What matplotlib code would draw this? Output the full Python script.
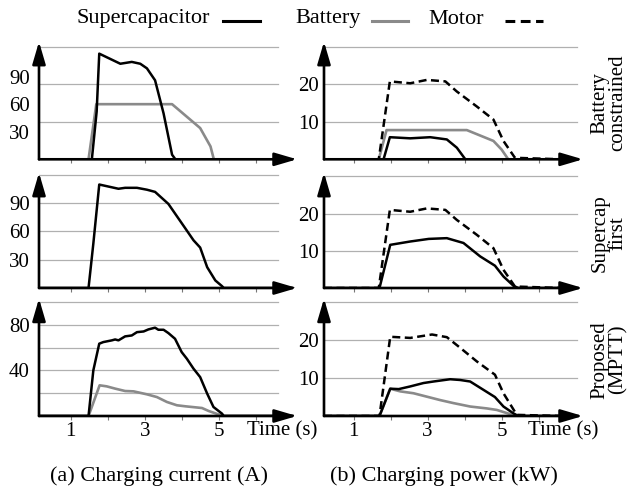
import matplotlib
matplotlib.use('Agg')
import matplotlib.pyplot as plt
from matplotlib.lines import Line2D

plt.rcParams['font.family'] = 'serif'
plt.rcParams['font.serif'] = ['Liberation Serif', 'DejaVu Serif']

# ---- data ----
# (a) charging current (A), battery constrained
t_bc_sc_i = [0.2, 1.57, 1.70, 1.77, 2.34, 2.65, 2.88, 3.06, 3.28, 3.51, 3.74, 3.83, 7.0]
bc_sc_i = [0, 0, 52, 115, 104, 106, 104, 99, 86, 50, 5, 0, 0]
t_bc_bat_i = [0.2, 1.48, 1.69, 3.74, 4.50, 4.78, 4.87, 7.0]
bc_bat_i = [0, 0, 60, 60, 34, 14, 0, 0]

# (b) charging power (kW), battery constrained
t_bc_mot_p = [0.2, 1.68, 1.98, 2.53, 2.98, 3.48, 3.79, 4.33, 4.78, 5.05, 5.36, 6.6]
bc_mot_p = [0, 0, 20.8, 20.3, 21.2, 20.8, 18.1, 14.1, 10.6, 4.9, 0.4, 0]
t_bc_bat_p = [0.2, 1.68, 1.89, 4.06, 4.78, 5.00, 5.18, 6.6]
bc_bat_p = [0, 0, 7.8, 7.8, 4.9, 2.6, 0, 0]
t_bc_sc_p = [0.2, 1.81, 1.98, 2.53, 3.07, 3.52, 3.79, 4.02, 6.6]
bc_sc_p = [0, 0, 5.9, 5.6, 5.9, 5.3, 3.1, 0, 0]

# (a) supercap first
t_sf_sc_i = [0.2, 1.48, 1.61, 1.77, 2.29, 2.47, 2.79, 3.06, 3.28, 3.64, 4.10, 4.32,
             4.50, 4.69, 4.91, 5.09, 5.14, 7.0]
sf_sc_i = [0, 0, 47, 109.5, 105, 106, 106, 104, 101.7, 89, 63, 50.5, 42.8, 22, 8, 2, 0, 0]
t_sf_bat_i = [0.2, 7.0]
sf_bat_i = [0, 0]

# (b) supercap first
t_sf_mot_p = [0.2, 1.68, 1.98, 2.53, 2.98, 3.48, 3.79, 4.33, 4.78, 5.05, 5.36, 6.6]
sf_mot_p = [0, 0, 21.0, 20.5, 21.4, 21.0, 18.3, 14.3, 10.7, 4.9, 0.4, 0]
t_sf_sc_p = [0.2, 1.70, 1.99, 2.53, 3.03, 3.52, 3.97, 4.42, 4.82, 5.05, 5.32, 5.45, 6.6]
sf_sc_p = [0, 0, 11.6, 12.5, 13.2, 13.4, 12.1, 8.5, 6.0, 3.1, 0.6, 0, 0]
t_sf_bat_p = [0.2, 6.6]
sf_bat_p = [0, 0]

# (a) proposed (MPTT)
t_pr_sc_i = [0.2, 1.48, 1.61, 1.77, 1.88, 2.11, 2.20, 2.29, 2.47, 2.65, 2.79, 2.97, 3.10,
             3.28, 3.37, 3.51, 3.64, 3.82, 4.00, 4.14, 4.32, 4.50, 4.69, 4.86, 5.09, 5.14, 7.0]
pr_sc_i = [0, 0, 40, 63.4, 64.8, 66.3, 67.1, 66.3, 69.8, 70.6, 73.5, 74.1, 75.9,
           77.4, 75.6, 75.6, 72.7, 67.7, 56, 50.2, 41.5, 34.1, 19.6, 7.9, 2.1, 0, 0]
t_pr_bat_i = [0.2, 1.48, 1.78, 1.97, 2.20, 2.47, 2.70, 3.06, 3.33, 3.60, 3.87, 4.10,
              4.28, 4.55, 4.73, 4.96, 5.14, 7.0]
pr_bat_i = [0, 0, 26.9, 26, 24, 21.9, 21.6, 19, 16.6, 12.3, 9.4, 8.5, 7.9, 7, 4.4, 1.8, 0, 0]

# (b) proposed (MPTT)
t_pr_mot_p = [0.2, 1.70, 1.99, 2.53, 3.12, 3.52, 3.88, 4.33, 4.82, 5.05, 5.41, 6.6]
pr_mot_p = [0, 0, 20.9, 20.6, 21.5, 20.8, 18.0, 14.4, 10.9, 6.0, 0.3, 0]
t_pr_sc_p = [0.2, 1.70, 1.99, 2.22, 2.53, 2.89, 3.16, 3.61, 3.88, 4.15, 4.51, 4.82,
             5.05, 5.32, 5.45, 6.6]
pr_sc_p = [0, 0, 7.2, 7.1, 7.8, 8.7, 9.1, 9.7, 9.5, 9.1, 6.9, 5.0, 2.5, 0.7, 0, 0]
t_pr_bat_p = [0.2, 1.70, 1.99, 2.26, 2.62, 2.98, 3.34, 3.70, 4.15, 4.60, 4.87, 5.23, 5.41, 6.6]
pr_bat_p = [0, 0, 7.2, 6.5, 6.0, 5.1, 4.2, 3.4, 2.5, 2.0, 1.6, 0.5, 0, 0]

row_labels = ['Battery\nconstrained', 'Supercap\nfirst', 'Proposed\n(MPTT)']
captions = ['(a) Charging current (A)', '(b) Charging power (kW)']

GRAY = '#8a8a8a'
GRID = '#b0b0b0'
DASH = (3.2, 1.8)

fig = plt.figure(figsize=(6.31, 4.88), dpi=100)

W, H = 631.0, 488.0
cols = [(39, 297), (324, 583)]            # pixel x extents of the axes
rows = [(41.7, 159.3), (172.7, 288.0), (298.5, 416.0)]  # pixel y extents (top, bottom)


def make_ax(r, c):
    x0, x1 = cols[c]
    yt, yb = rows[r]
    return fig.add_axes([x0 / W, 1 - yb / H, (x1 - x0) / W, (yb - yt) / H])


def style_ax(ax, xlim, ylim, grid, yticks, gridend, ypad, bottom, time_x):
    ax.set_xlim(*xlim)
    ax.set_ylim(*ylim)
    for s in ax.spines.values():
        s.set_visible(False)
    for g in grid:
        ax.axhline(g, xmin=0, xmax=gridend, color=GRID, lw=0.9, zorder=0)
    ax.set_yticks(yticks)
    ax.set_yticklabels([str(v) for v in yticks])
    ax.tick_params(axis='y', length=0, pad=ypad, labelsize=15)
    ax.set_xticks([1, 2, 3, 4, 5, 6])
    if bottom:
        ax.set_xticklabels(['1', '', '3', '', '5', ''])
    else:
        ax.set_xticklabels([''] * 6)
    ax.tick_params(axis='x', length=3, width=0.8, color='#777777', pad=1, labelsize=15)
    arrow = dict(arrowstyle='-|>,head_length=0.75,head_width=0.22', lw=1.9, color='k',
                 shrinkA=0, shrinkB=0, mutation_scale=18)
    ax.annotate('', xy=(1, 0), xytext=(0, 0), xycoords='axes fraction',
                arrowprops=arrow, annotation_clip=False, zorder=5)
    ax.annotate('', xy=(0, 1), xytext=(0, 0), xycoords='axes fraction',
                arrowprops=arrow, annotation_clip=False, zorder=5)
    if bottom:
        ax.text(time_x, -0.045, 'Time (s)', transform=ax.transAxes,
                ha='left', va='top', fontsize=15)


# current panels (left column)
cur = [
    (t_bc_sc_i, bc_sc_i, t_bc_bat_i, bc_bat_i, (0, 128), [40.8, 81.6, 122.4], [30, 60, 90]),
    (t_sf_sc_i, sf_sc_i, t_sf_bat_i, sf_bat_i, (0, 122), [30, 60, 90, 120], [30, 60, 90]),
    (t_pr_sc_i, pr_sc_i, t_pr_bat_i, pr_bat_i, (0, 103), [20, 40, 60, 80, 100], [40, 80]),
]
for r, (ts, ys, tb, yb, ylim, grid, yt) in enumerate(cur):
    ax = make_ax(r, 0)
    ax.plot(tb, yb, color=GRAY, lw=1.9, zorder=2)
    ax.plot(ts, ys, color='k', lw=1.8, zorder=3)
    style_ax(ax, (0.14, 7.12), ylim, grid, yt, 0.926, 6.5, r == 2, 0.806)

# power panels (right column)
pw = [
    (t_bc_sc_p, bc_sc_p, t_bc_bat_p, bc_bat_p, t_bc_mot_p, bc_mot_p, (0, 31.4)),
    (t_sf_sc_p, sf_sc_p, t_sf_bat_p, sf_bat_p, t_sf_mot_p, sf_mot_p, (0, 31.0)),
    (t_pr_sc_p, pr_sc_p, t_pr_bat_p, pr_bat_p, t_pr_mot_p, pr_mot_p, (0, 31.0)),
]
for r, (ts, ys, tb, yb, tm, ym, ylim) in enumerate(pw):
    ax = make_ax(r, 1)
    ax.plot(tb, yb, color=GRAY, lw=1.9, zorder=2)
    ax.plot(ts, ys, color='k', lw=1.8, zorder=3)
    ax.plot(tm, ym, color='k', lw=1.8, dashes=DASH, zorder=4)
    style_ax(ax, (0.2, 7.2), ylim, [10, 20, 30], [10, 20], 0.976, 4, r == 2, 0.788)
    yt_, yb_ = rows[r]
    fig.text(609 / W, 1 - (yt_ + yb_) / 2 / H - 0.005, row_labels[r], rotation=90,
             ha='center', va='center', fontsize=15, linespacing=0.9)

# captions
fig.text(159 / W, 1 - 476 / H, captions[0], ha='center', va='center', fontsize=16)
fig.text(444 / W, 1 - 476 / H, captions[1], ha='center', va='center', fontsize=16)

# legend along the top
ly = 1 - 19 / H
fig.text(77 / W, ly, 'Supercapacitor', ha='left', va='center', fontsize=16)
fig.add_artist(Line2D([223 / W, 260 / W], [1 - 21 / H] * 2, color='k', lw=2.2))
fig.text(295 / W, ly, 'Battery', ha='left', va='center', fontsize=16)
fig.add_artist(Line2D([372 / W, 408 / W], [1 - 21 / H] * 2, color=GRAY, lw=2.2))
fig.text(428 / W, ly, 'Motor', ha='left', va='center', fontsize=16)
fig.add_artist(Line2D([505 / W, 543 / W], [1 - 21 / H] * 2, color='k', lw=2.2, dashes=DASH))

fig.savefig('out.png', dpi=100)
